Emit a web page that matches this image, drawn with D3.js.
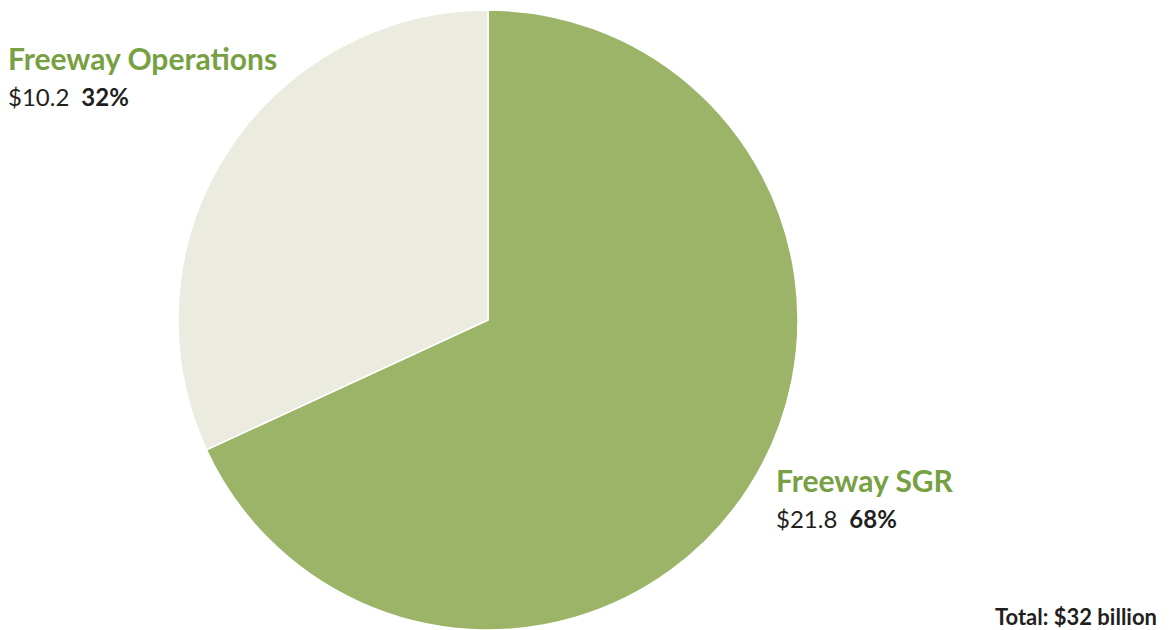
<!DOCTYPE html>
<html lang="en">
<head>
<meta charset="UTF-8">
<title>Freeway spending</title>
<style>
  body { margin: 0; background: #fff; }
  svg text { font-family: Lato, "Open Sans", sans-serif; }
</style>
</head>
<body>
<div id="chart"></div>
<script src="https://cdn.jsdelivr.net/npm/d3@7"></script>
<script>
// data
var categories = ["Freeway SGR", "Freeway Operations"];
var amounts = [21.8, 10.2];
var percents = [68, 32];
var colors = ["#9bb467", "#ebebdf"];
var totalLabel = "Total: $32 billion";

var width = 1172, height = 630;
var cx = 488, cy = 320, radius = 310;

var svg = d3.select("#chart").append("svg")
    .attr("width", width)
    .attr("height", height);

var data = categories.map(function(c, i) {
    return { name: c, value: amounts[i], pct: percents[i], color: colors[i] };
});

var pie = d3.pie()
    .sort(null)
    .value(function(d) { return d.value; });

var arc = d3.arc()
    .innerRadius(0)
    .outerRadius(radius);

var pieGroup = svg.append("g")
    .attr("transform", "translate(" + cx + "," + cy + ")");

pieGroup.selectAll("path")
    .data(pie(data))
    .enter()
    .append("path")
    .attr("d", arc)
    .attr("fill", function(d) { return d.data.color; })
    .attr("stroke", "#fff")
    .attr("stroke-width", 1.5);

// labels (placed beside the pie like the source)
var labelPos = [
    { x: 776, y: 492 },
    { x: 8, y: 70 }
];

var labels = svg.selectAll("g.label")
    .data(data)
    .enter()
    .append("g")
    .attr("class", "label")
    .attr("transform", function(d, i) {
        return "translate(" + labelPos[i].x + "," + labelPos[i].y + ")";
    });

labels.append("text")
    .attr("fill", "#77a042")
    .attr("font-size", 30)
    .attr("font-weight", "bold")
    .text(function(d) { return d.name; });

var sub = labels.append("text")
    .attr("y", 36)
    .attr("fill", "#231f20")
    .attr("font-size", 24);

sub.append("tspan")
    .text(function(d) { return "$" + d.value.toFixed(1); });

sub.append("tspan")
    .attr("dx", 12)
    .attr("font-weight", "bold")
    .text(function(d) { return d.pct + "%"; });

svg.append("text")
    .attr("x", 1157)
    .attr("y", 625)
    .attr("text-anchor", "end")
    .attr("font-size", 22)
    .attr("font-weight", "bold")
    .attr("fill", "#231f20")
    .text(totalLabel);
</script>
</body>
</html>
